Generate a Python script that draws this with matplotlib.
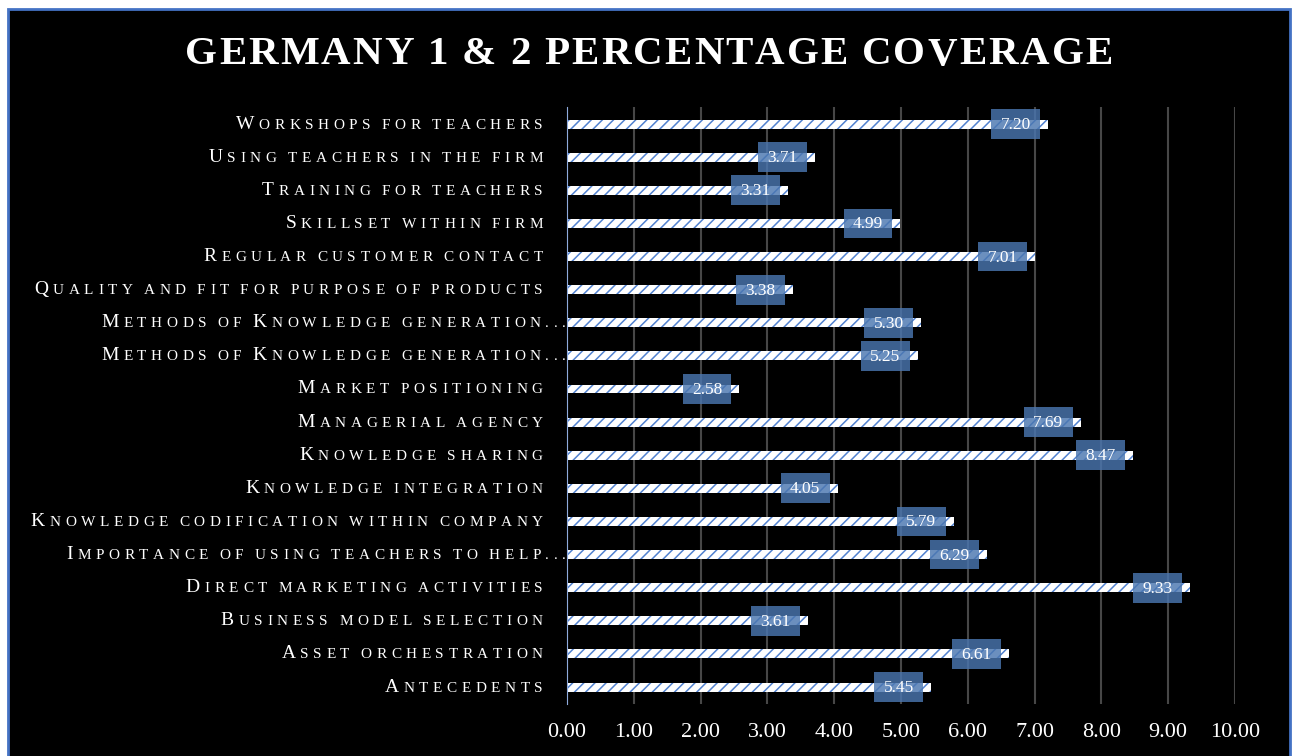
import matplotlib.pyplot as plt
from matplotlib.patches import Rectangle
from matplotlib.offsetbox import TextArea, HPacker, AnnotationBbox

# categories bottom-to-top, as the chart lists them
categories = [
    "Antecedents",
    "Asset orchestration",
    "Business model selection",
    "Direct marketing activities",
    "Importance of using teachers to help...",
    "Knowledge codification within company",
    "Knowledge integration",
    "Knowledge sharing ",
    "Managerial agency",
    "Market positioning",
    "Methods of Knowledge generation...",
    "Methods of Knowledge generation...",
    "Quality and fit for purpose of products",
    "Regular customer contact",
    "Skillset within firm",
    "Training for teachers",
    "Using teachers in the firm",
    "Workshops for teachers",
]
coverage = [5.45, 6.61, 3.61, 9.33, 6.29, 5.79, 4.05, 8.47, 7.69,
            2.58, 5.25, 5.30, 3.38, 7.01, 4.99, 3.31, 3.71, 7.20]
xticks = [0, 1, 2, 3, 4, 5, 6, 7, 8, 9, 10]

SERIF = "Liberation Serif"
plt.rcParams["hatch.linewidth"] = 1.1

fig = plt.figure(figsize=(12.96, 7.56), dpi=100)
fig.patch.set_facecolor("white")

# black chart area with blue outline
frame = Rectangle((8 / 1296, -0.01), (1290 - 8) / 1296, 1.01 - 9.5 / 756,
                  transform=fig.transFigure, facecolor="black",
                  edgecolor="#4472C4", linewidth=2, zorder=-5)
fig.patches.append(frame)


def spaced_text(text, big, small, sep, word_sep, weight="normal", smallcaps=True):
    # letter-spaced text, lowercase drawn as small capitals
    words = []
    for word in text.split(" "):
        if not word:
            continue
        chars = []
        for ch in word:
            if smallcaps and (ch.islower() or ch == "."):
                size = small
            else:
                size = big
            chars.append(TextArea(ch.upper(), textprops=dict(
                color="white", fontsize=size, family=SERIF, fontweight=weight)))
        words.append(HPacker(children=chars, align="baseline", pad=0, sep=sep))
    return HPacker(children=words, align="baseline", pad=0, sep=word_sep)


ax = fig.add_axes([567 / 1296, 1 - 703.6 / 756, (1235 - 567) / 1296, (703.6 - 107.5) / 756])
ax.set_facecolor("none")

y = list(range(len(categories)))
ax.barh(y, coverage, height=0.27, color="white", edgecolor="#5282CF",
        linewidth=0, hatch="///", zorder=2)

# value labels in blue boxes just inside the bar end
for yi, v in zip(y, coverage):
    ax.add_patch(Rectangle((v - 0.12 - 0.73, yi - 0.45), 0.73, 0.9,
                           facecolor="#4A76B0", alpha=0.82, linewidth=0, zorder=3))
    ax.text(v - 0.12 - 0.365, yi - 0.03, f"{v:.2f}", color="white", fontsize=12.5,
            family=SERIF, ha="center", va="center", zorder=4)

ax.set_xlim(0, 10)
ax.set_ylim(-0.5, len(categories) - 0.5)
ax.set_xticks(xticks)
ax.set_xticklabels([f"{t:.2f}" for t in xticks], family=SERIF)
ax.set_yticks([])
ax.tick_params(axis="x", length=0, pad=14, labelsize=16, labelcolor="white")
ax.xaxis.grid(True, color="#474747", linewidth=1.5)
ax.set_axisbelow(True)
for side in ["top", "right", "bottom"]:
    ax.spines[side].set_visible(False)
ax.spines["left"].set_color("#8FAADC")
ax.spines["left"].set_linewidth(0.8)
ax.spines["left"].set_zorder(5)

# category labels
for yi, label in zip(y, categories):
    box = spaced_text(label, 14, 11, 3.3, 8)
    off = -1 if label.endswith("...") else -17.5
    ab = AnnotationBbox(box, (0, yi), xycoords=ax.get_yaxis_transform(),
                        xybox=(off, 0), boxcoords="offset points",
                        box_alignment=(1, 0.5), frameon=False, pad=0,
                        annotation_clip=False)
    ax.add_artist(ab)

# title
title = spaced_text("GERMANY 1 & 2 PERCENTAGE COVERAGE", 29.5, 29.5, 1.5, 10,
                    weight="bold", smallcaps=False)
tb = AnnotationBbox(title, (649 / 1296, 1 - 55 / 756), xycoords="figure fraction",
                    box_alignment=(0.5, 0.5), frameon=False, pad=0)
fig.add_artist(tb)

fig.savefig("out.png", dpi=100, facecolor="white")
